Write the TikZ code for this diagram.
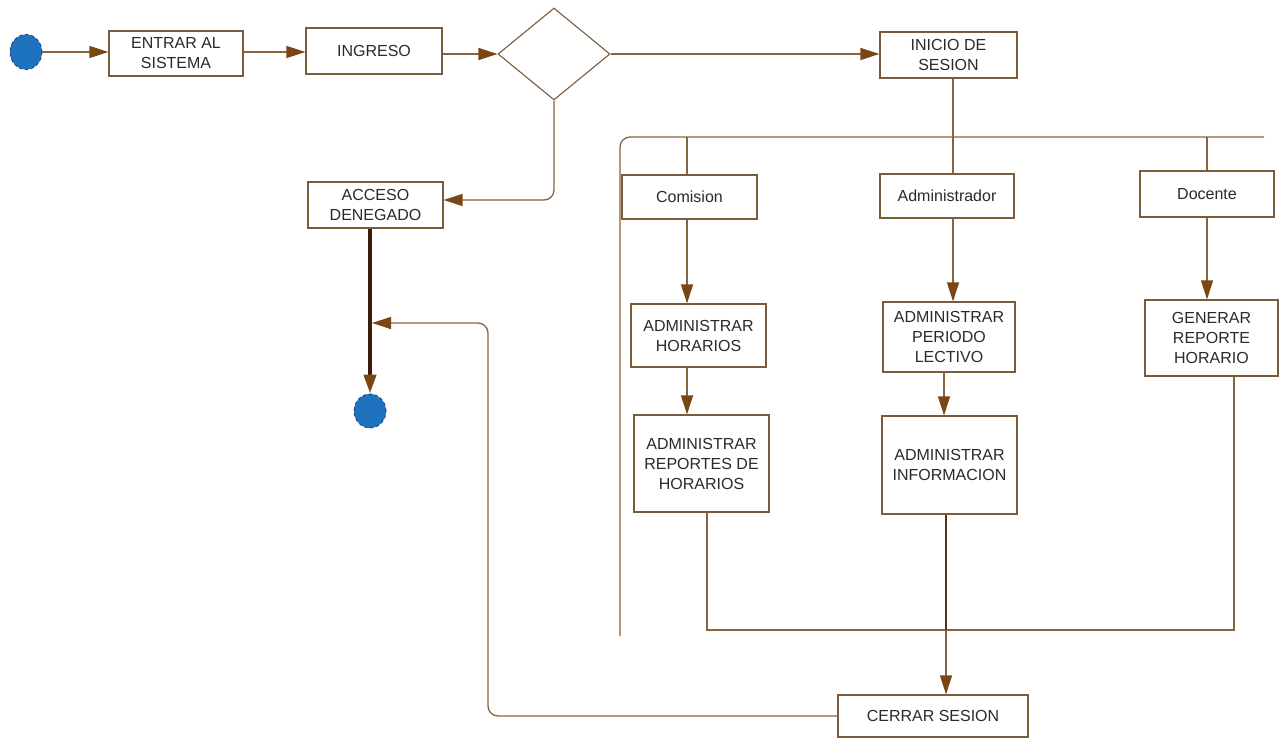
\documentclass[tikz,border=0pt]{standalone}
\usepackage{fontspec}
\setmainfont{Liberation Sans}
\usetikzlibrary{arrows.meta,shapes.geometric}
\definecolor{ln}{HTML}{86643F}
\definecolor{bx}{HTML}{7A5C3C}
\definecolor{tip}{HTML}{7A4614}
\definecolor{thick}{HTML}{3D1C0C}
\definecolor{txt}{HTML}{2A2A2A}
\definecolor{blu}{HTML}{1E73BE}
\definecolor{bld}{HTML}{1A3A6A}
\begin{document}
\begin{tikzpicture}[x=1pt,y=-1pt,
  box/.style={draw=bx,line width=1.2pt,fill=white,rectangle,inner sep=0pt,align=center,
    text=txt,font=\fontsize{16}{20}\selectfont},
  dot/.style={ellipse,draw=bld,dashed,line width=0.8pt,fill=blu,inner sep=0pt},
  conn/.style={draw=ln,line width=1.3pt},
  arr/.style={conn,-{Triangle[length=19pt,width=12pt,color=tip]}},
]
\fill[white] (0,0) rectangle (1279,738);
\useasboundingbox (0,0) rectangle (1279,738);

% nodes
\node[dot,minimum width=32pt,minimum height=35pt] (start) at (26,52) {};
\node[box,minimum width=134pt,minimum height=45pt] (ent) at (176,53.5) {ENTRAR AL\\SISTEMA};
\node[box,minimum width=136pt,minimum height=46pt] (ing) at (374,51) {INGRESO};
\node[diamond,draw=bx,line width=1.1pt,fill=white,inner sep=0pt,minimum width=112pt,minimum height=92pt] (dec) at (554,54) {};
\node[box,minimum width=137pt,minimum height=46pt] (ini) at (948.5,55) {INICIO DE\\SESION};
\node[box,minimum width=135pt,minimum height=46pt] (acc) at (375.5,205) {ACCESO\\DENEGADO};
\node[box,minimum width=135pt,minimum height=44pt] (com) at (689.5,197) {Comision};
\node[box,minimum width=134pt,minimum height=44pt] (adm) at (947,196) {Administrador};
\node[box,minimum width=134pt,minimum height=46pt] (doc) at (1207,194) {Docente};
\node[box,minimum width=135pt,minimum height=63pt] (ah) at (698.5,335.5) {ADMINISTRAR\\HORARIOS};
\node[box,minimum width=135pt,minimum height=97pt] (arh) at (701.5,463.5) {ADMINISTRAR\\REPORTES DE\\HORARIOS};
\node[box,minimum width=132pt,minimum height=70pt] (apl) at (949,337) {ADMINISTRAR\\PERIODO\\LECTIVO};
\node[box,minimum width=135pt,minimum height=98pt] (ai) at (949.5,465) {ADMINISTRAR\\INFORMACION};
\node[box,minimum width=133pt,minimum height=76pt] (grh) at (1211.5,338) {GENERAR\\REPORTE\\HORARIO};
\node[box,minimum width=190pt,minimum height=42pt] (cer) at (933,716) {CERRAR SESION};
\node[dot,minimum width=32pt,minimum height=34pt] (fin) at (370,411) {};

% coordinates
\coordinate (b1) at (1264,137);
\coordinate (b2) at (620,137);
\coordinate (b3) at (620,636);
\coordinate (c1) at (687,137);
\coordinate (d1) at (1207,137);
\coordinate (a1) at (953,137);
\coordinate (q1) at (707,630);
\coordinate (q2) at (1234,630);
\coordinate (m1) at (946,630);
\coordinate (r1) at (488,716);
\coordinate (r2) at (488,323);
\coordinate (r3) at (372,323);
\coordinate (k1) at (554,200);

% connectors
\draw[arr] (start.east) -- (ent.west |- start.east);
\draw[arr] (ent.east |- 0,52) -- (ing.west |- 0,52);
\draw[arr] (ing.east |- 0,54) -- (dec.west);
\draw[arr] (dec.east) -- (ini.west |- dec.east);
\draw[arr,rounded corners=10pt] (dec.south) -- (k1) -- (acc.east |- k1);
\draw[conn] (ini.south -| a1) -- (adm.north -| a1);
\draw[conn,rounded corners=10pt] (b1) -- (b2) -- (b3);
\draw[conn] (c1) -- (com.north -| c1);
\draw[conn] (d1) -- (doc.north -| d1);
\draw[arr] (com.south -| c1) -- (ah.north -| c1);
\draw[arr] (ah.south -| c1) -- (arh.north -| c1);
\draw[arr] (adm.south -| a1) -- (apl.north -| a1);
\draw[arr] (apl.south -| 944,0) -- (ai.north -| 944,0);
\draw[arr] (doc.south -| d1) -- (grh.north -| d1);
\draw[conn] (arh.south -| q1) -- (q1) -- (q2) -- (grh.south -| q2);
\draw[arr] (ai.south -| m1) -- (cer.north -| m1);
\draw[draw=thick!70!ln,line width=2.4pt] (ai.south -| m1) -- (m1);
\draw[arr,rounded corners=10pt] (cer.west) -- (r1) -- (r2) -- (r3);
\draw[draw=thick,line width=4pt,-{Triangle[length=19pt,width=12pt,color=tip]}] (acc.south -| fin.north) -- (fin.north);
\end{tikzpicture}
\end{document}
